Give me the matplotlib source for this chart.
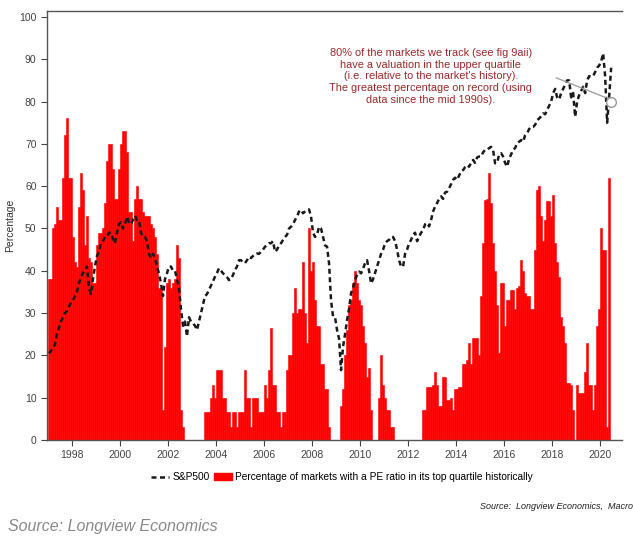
import numpy as np
import matplotlib
matplotlib.use("Agg")
import matplotlib.pyplot as plt
from matplotlib.lines import Line2D
from matplotlib.patches import Patch

plt.rcParams['font.family'] = ['Liberation Sans', 'DejaVu Sans']

# Monthly data, Jan 1997 to Jun 2020
start_year = 1997

# % of markets with a PE ratio in its top quartile historically
pct_top_quartile = [
    38, 38, 50, 51, 55, 52, 52, 62, 72, 76, 62, 62,            # 1997
    48, 42, 41, 55, 63, 59, 46, 53, 43, 42, 37, 37,            # 1998
    46, 49, 49, 50, 56, 66, 70, 70, 64, 57, 57, 64,            # 1999
    70, 73, 73, 68, 54, 54, 47, 57, 60, 57, 57, 54,            # 2000
    53, 53, 53, 51, 50, 48, 44, 36, 36, 7, 22, 37,             # 2001
    38, 36, 37, 38, 46, 43, 7, 3, 0, 0, 0, 0,                  # 2002
    0, 0, 0, 0, 0, 0, 6.5, 6.5, 6.5, 10, 13, 10,               # 2003
    16.5, 16.5, 16.5, 10, 10, 6.5, 6.5, 3, 6.5, 6.5, 3, 6.5,   # 2004
    6.5, 6.5, 16.5, 10, 10, 3, 10, 10, 10, 6.5, 6.5, 6.5,      # 2005
    13, 10, 16.5, 26.5, 13, 13, 6.5, 6.5, 3, 6.5, 6.5, 16.5,   # 2006
    20, 20, 30, 36, 30, 31, 31, 42, 30, 23, 50, 40,            # 2007
    42, 33, 27, 27, 18, 18, 12, 12, 3, 0, 0, 0,                # 2008
    0, 0, 8, 12, 20, 26, 32, 33, 37, 40, 37, 33,               # 2009
    32, 27, 23, 15, 17, 7, 0, 0, 0, 10, 20, 13,                # 2010
    10, 7, 7, 3, 3, 0, 0, 0, 0, 0, 0, 0,                       # 2011
    0, 0, 0, 0, 0, 0, 0, 7, 7, 12.5, 12.5, 12.5,               # 2012
    13, 16, 13, 8, 8, 15, 15, 9.5, 9.5, 10, 7, 12,             # 2013
    12, 12.5, 12.5, 18, 18, 19, 23, 18, 24, 24, 24, 20,        # 2014
    34, 46.5, 56.7, 57, 63, 56, 46.5, 40, 32, 20.5, 37, 37,    # 2015
    27, 33, 33, 35.5, 35.5, 31, 36, 36.4, 42.5, 40, 34.7, 34,  # 2016
    34, 31, 31, 45, 59, 60, 53, 47, 52, 56.5, 56.5, 53,        # 2017
    58, 46.5, 42, 38.5, 29, 27, 23, 13.4, 13.4, 13, 7, 0,      # 2018
    13, 11, 11, 11, 16, 23, 13, 13, 7, 13, 27, 31,             # 2019
    50, 45, 45, 3, 62, 80,                                     # 2020
]

# S&P500 (rescaled to the chart axis)
sp500 = [
    20.5, 21, 22, 22.5, 25, 26.5, 28, 29, 30, 30.5, 31.5, 32.5,
    33, 34, 35, 37, 38.5, 39.5, 40, 41, 36, 34.5, 38, 41,
    43.5, 44.5, 46.5, 47, 48, 48, 49, 49, 47.5, 46.5, 49, 51,
    51.5, 50, 51, 52.8, 51.5, 51, 52, 53, 52, 52, 49, 48,
    48, 47, 44, 43, 44, 43, 41, 39.4, 37, 34, 38, 39.4,
    41, 41, 40, 40, 38, 36, 31, 27, 28, 24.5, 29, 28,
    27.6, 27, 26, 28, 30, 32, 34, 34.5, 35.5, 36.5, 37.5, 38.6,
    39.5, 40.6, 40, 39.4, 39, 38.5, 37.8, 38, 39, 40.2, 41, 42.5,
    42.5, 42, 41.8, 42.5, 43.3, 43, 43.5, 44, 44.1, 44, 44.5, 45,
    45.7, 46, 46.5, 46.5, 47, 44.5, 45, 46, 46.5, 47.3, 48, 48.5,
    50, 50.4, 51, 52, 52.8, 54, 54.4, 53.6, 54, 54.4, 54.5, 52.8,
    49, 48, 48.5, 50.4, 50, 48, 46, 45.7, 41.8, 33, 29.2, 29,
    26, 24, 16.5, 22, 25, 28.3, 31, 34.7, 36, 37.8, 39, 39.8,
    39.4, 40.5, 41.8, 42.5, 40, 37, 38, 39.5, 41, 42.5, 44, 45,
    46.5, 47, 47.3, 48, 48, 47, 45, 42.5, 41, 41, 44, 45,
    46.5, 47.3, 48.5, 49, 47, 48, 49, 49.6, 51, 51.3, 50.5, 52,
    54, 55.2, 56, 57, 57.6, 57, 58.5, 58.7, 59.5, 60.5, 61.5, 62,
    61.5, 62.5, 63.5, 63.8, 64.5, 65, 64.6, 65.5, 66.2, 65.5, 66.8, 67,
    67, 68, 68.6, 68.6, 69, 69.3, 68.5, 65.4, 65.5, 67.5, 67.8, 67,
    65.5, 64.6, 66.5, 67.5, 68.6, 69, 70.2, 70.5, 70.9, 70.5, 72, 72.5,
    73.5, 74, 74, 74.5, 75.6, 76, 76.5, 77.2, 77, 78, 79, 80,
    82, 83, 81, 80.5, 82, 83, 84, 85, 85, 81, 82, 76.4,
    80, 81.5, 82.5, 83.5, 82, 85, 86, 85.9, 86, 87, 88, 88.5,
    89.5, 91.4, 85.9, 75, 81.2, 88,
]

year_ticks = list(range(1998, 2021, 2))

months = np.arange(len(pct_top_quartile))
t = start_year + months / 12.0

fig = plt.figure(figsize=(6.33, 5.43), dpi=100)
ax = fig.add_axes([0.0742, 0.1897, 0.9088, 0.79])

# bars (last month drawn as a thin spike like in the original)
ax.bar(t[:-1], pct_top_quartile[:-1], width=1 / 12, align='edge',
       color='#ff0000', edgecolor='#ff0000', linewidth=0.4)
ax.bar(t[-1] + 1 / 24, pct_top_quartile[-1], width=1 / 40, align='center',
       color='#ff6666', linewidth=0)

ax.plot(t + 1 / 24, sp500, color='#1a1a1a', linewidth=1.8,
        linestyle=(0, (2, 1.4)))

ax.set_xlim(1996.96, 2020.92)
ax.set_ylim(0, 101.4)
ax.set_yticks(range(0, 101, 10))
ax.set_xticks(year_ticks)
ax.set_xticklabels([str(y) for y in year_ticks])
ax.tick_params(labelsize=7.5, colors='#444444', length=4, width=0.8)
ax.set_ylabel('Percentage', fontsize=7.5, color='#333333', labelpad=3)
for s in ['left', 'bottom', 'top']:
    ax.spines[s].set_color('#555555')
    ax.spines[s].set_linewidth(1.0)
ax.spines['right'].set_visible(False)

# annotation
note = ("80% of the markets we track (see fig 9aii)\n"
        "have a valuation in the upper quartile\n"
        "(i.e. relative to the market's history).\n"
        "The greatest percentage on record (using\n"
        "data since the mid 1990s).")
ax.text(2012.95, 92.6, note, ha='center', va='top', fontsize=7.9,
        color='#9e2a2b', linespacing=1.2)
ax.plot([2018.17, 2020.25], [85.6, 80.9], color='#999999', linewidth=0.9)
ax.plot([t[-1] + 1 / 24], [pct_top_quartile[-1]], marker='o', markersize=7,
        markerfacecolor='white', markeredgecolor='#999999', markeredgewidth=1.0)

handles = [Line2D([0], [0], color='#1a1a1a', linewidth=1.8, linestyle=(0, (2, 1.4))),
           Patch(facecolor='#ff0000', edgecolor='#ff0000')]
labels = ['S&P500', 'Percentage of markets with a PE ratio in its top quartile historically']
fig.legend(handles, labels, loc='center', bbox_to_anchor=(0.54, 0.121), ncol=2,
           frameon=False, fontsize=7.3, handlelength=1.8, handletextpad=0.3,
           columnspacing=0.4)

fig.text(0.758, 0.068, 'Source:  Longview Economics,  Macrobond', fontsize=6.5,
         style='italic', color='#222222', ha='left', va='center')
fig.text(0.012, 0.031, 'Source: Longview Economics', fontsize=11.5,
         style='italic', color='#8a8a8a', ha='left', va='center')

fig.savefig('out.png', dpi=100)
